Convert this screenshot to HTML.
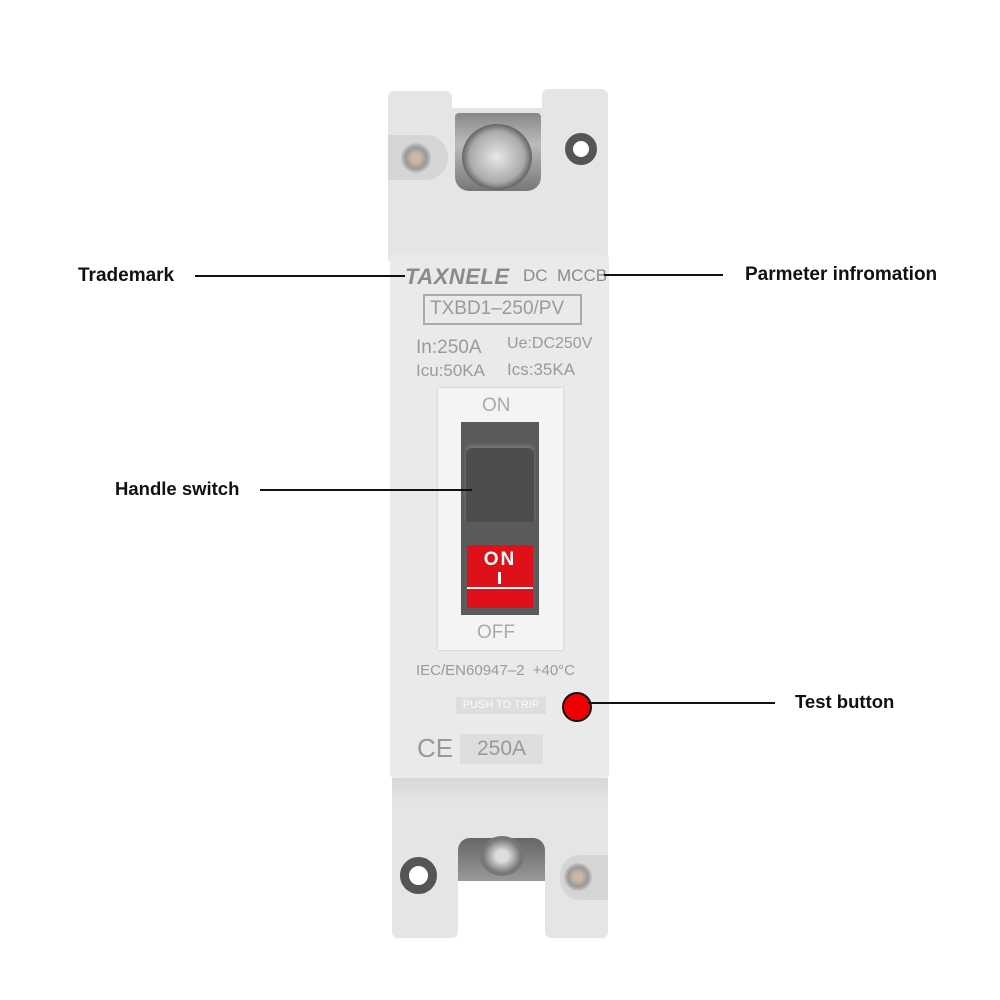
<!DOCTYPE html><html><head><style>
body{margin:0;width:1000px;height:1000px;background:#fff;position:relative;font-family:"Liberation Sans",sans-serif;overflow:hidden}
.a{position:absolute}
.lbl{position:absolute;font-size:18.5px;font-weight:bold;color:#111}
.ln{position:absolute;height:2px;background:#111}
.g{color:#9a9a9a;position:absolute;white-space:nowrap}
</style></head><body>
<!-- top block -->
<div class="a" style="left:388px;top:91px;width:64px;height:170px;background:#e6e5e6;border-radius:6px 6px 0 0"></div>
<div class="a" style="left:542px;top:89px;width:66px;height:172px;background:#e6e5e6;border-radius:6px 6px 0 0"></div>
<div class="a" style="left:450px;top:108px;width:94px;height:153px;background:#e6e5e6"></div>
<div class="a" style="left:388px;top:135px;width:60px;height:45px;background:#d6d5d6;border-radius:0 22px 22px 0"></div>
<div class="a" style="left:455px;top:113px;width:86px;height:78px;background:linear-gradient(#888,#bbb 40%,#777);border-radius:4px 4px 14px 14px"></div>
<div class="a" style="left:462px;top:124px;width:70px;height:66px;border-radius:50%;background:radial-gradient(#e8e8e8,#aaa 55%,#666 70%,#ccc 80%)"></div>
<div class="a" style="left:401px;top:143px;width:30px;height:30px;border-radius:50%;background:radial-gradient(#c9b8a8 20%,#999 50%,#ddd 80%)"></div>
<div class="a" style="left:565px;top:133px;width:16px;height:16px;border-radius:50%;border:8px solid #555;background:#fff"></div>
<!-- front panel -->
<div class="a" style="left:390px;top:255px;width:219px;height:523px;background:#ebeaeb;border-radius:4px"></div>
<div class="g" style="left:405px;top:264px;font-size:22px;font-style:italic;font-weight:bold;color:#8a8a8a;letter-spacing:0.5px">TAXNELE</div>
<div class="g" style="left:523px;top:266px;font-size:17px;color:#8a8a8a">DC&nbsp; MCCB</div>
<div class="a" style="left:423px;top:294px;width:155px;height:27px;border:2px solid #aaa"></div>
<div class="g" style="left:430px;top:298px;font-size:19px">TXBD1–250/PV</div>
<div class="g" style="left:416px;top:337px;font-size:19px">In:250A</div>
<div class="g" style="left:507px;top:335px;font-size:16px">Ue:DC250V</div>
<div class="g" style="left:416px;top:361px;font-size:17px">Icu:50KA</div>
<div class="g" style="left:507px;top:360px;font-size:17px">Ics:35KA</div>
<!-- switch -->
<div class="a" style="left:438px;top:388px;width:125px;height:262px;background:#f4f4f4;box-shadow:0 0 2px #bbb"></div>
<div class="g" style="left:482px;top:395px;font-size:19px;color:#aaa">ON</div>
<div class="g" style="left:477px;top:622px;font-size:19px;color:#aaa">OFF</div>
<div class="a" style="left:461px;top:422px;width:78px;height:193px;background:#5b5b5b"></div>
<div class="a" style="left:466px;top:448px;width:68px;height:74px;background:#4d4d4d;border-radius:6px 6px 0 0;box-shadow:0 -3px 3px #777"></div>
<div class="a" style="left:467px;top:545px;width:66px;height:63px;background:#e0101a"></div>
<div class="a" style="left:467px;top:587px;width:66px;height:2px;background:#fff"></div>
<div class="a" style="left:467px;top:549px;width:66px;text-align:center;color:#fff;font-weight:bold;font-size:19px;letter-spacing:2px">ON</div>
<div class="a" style="left:498px;top:572px;width:3px;height:12px;background:#fff"></div>
<div class="g" style="left:416px;top:662px;font-size:15px">IEC/EN60947–2 &nbsp;+40°C</div>
<div class="a" style="left:456px;top:697px;width:90px;height:17px;background:#dedede;color:#fafafa;font-size:11px;text-align:center;line-height:17px">PUSH TO TRIP</div>
<div class="a" style="left:562px;top:692px;width:26px;height:26px;border-radius:50%;background:#e00;border:2px solid #111"></div>
<div class="g" style="left:417px;top:733px;font-size:26px;color:#999">CE</div>
<div class="a" style="left:460px;top:734px;width:83px;height:30px;background:#dedede;color:#999;font-size:21px;text-align:center;line-height:30px">250A</div>
<!-- bottom -->
<div class="a" style="left:392px;top:778px;width:216px;height:102px;background:linear-gradient(#d8d7d8,#e6e5e6 25%)"></div>
<div class="a" style="left:392px;top:878px;width:66px;height:60px;background:#e6e5e6;border-radius:0 0 6px 6px"></div>
<div class="a" style="left:545px;top:878px;width:63px;height:60px;background:#e6e5e6;border-radius:0 0 6px 6px"></div>
<div class="a" style="left:458px;top:838px;width:87px;height:43px;background:linear-gradient(#666,#999);border-radius:12px 12px 0 0"></div>
<div class="a" style="left:480px;top:836px;width:44px;height:40px;border-radius:50%;background:radial-gradient(#ddd 20%,#777 60%)"></div>
<div class="a" style="left:400px;top:857px;width:19px;height:19px;border-radius:50%;border:9px solid #555;background:#fff"></div>
<div class="a" style="left:560px;top:855px;width:48px;height:45px;background:#d6d5d6;border-radius:20px 0 0 20px"></div>
<div class="a" style="left:564px;top:863px;width:28px;height:28px;border-radius:50%;background:radial-gradient(#c9b8a8 20%,#999 50%,#ddd 80%)"></div>
<!-- labels -->
<div class="lbl" style="left:78px;top:265px;font-size:19px">Trademark</div>
<div class="ln" style="left:195px;top:275px;width:210px"></div>
<div class="lbl" style="left:745px;top:264px;font-size:19px">Parmeter infromation</div>
<div class="ln" style="left:604px;top:274px;width:119px"></div>
<div class="lbl" style="left:115px;top:478px">Handle switch</div>
<div class="ln" style="left:260px;top:489px;width:212px"></div>
<div class="lbl" style="left:795px;top:691px">Test button</div>
<div class="ln" style="left:588px;top:702px;width:187px"></div>
</body></html>
